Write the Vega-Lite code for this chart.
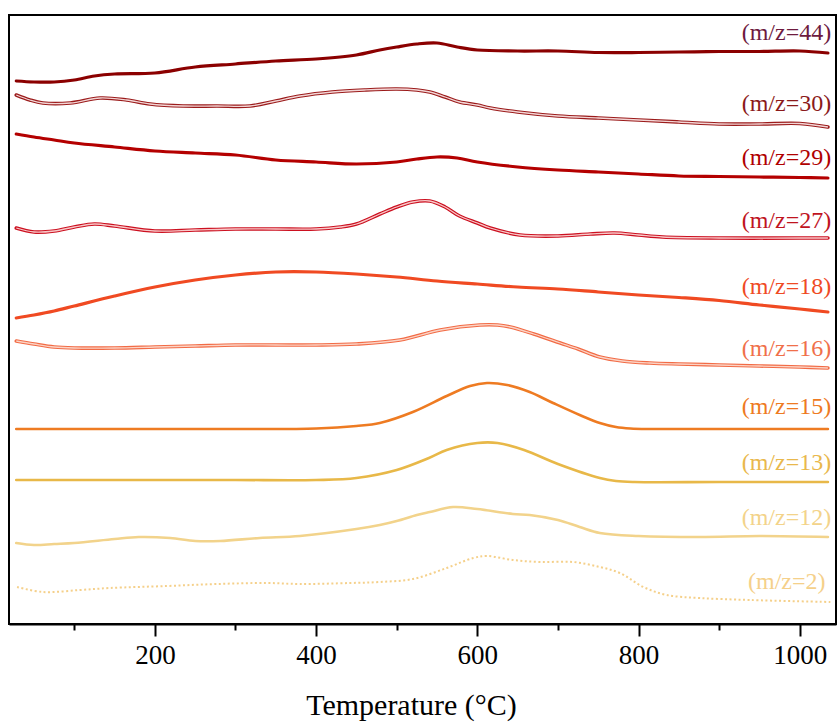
{
  "$schema": "https://vega.github.io/schema/vega-lite/v6.json",
  "width": 827,
  "height": 609,
  "autosize": {"type": "none"},
  "padding": {"left": 9, "top": 15, "right": 1, "bottom": 98},
  "background": "white",
  "config": {
    "view": {"stroke": "black", "strokeWidth": 2},
    "font": "Liberation Serif"
  },
  "datasets": {
    "curves": [
      {"s":"44","T":28,"v":543},{"s":"44","T":50,"v":542},{"s":"44","T":75,"v":542},{"s":"44","T":100,"v":544},{"s":"44","T":125,"v":548},{"s":"44","T":150,"v":550},{"s":"44","T":200,"v":551},{"s":"44","T":250,"v":557},{"s":"44","T":300,"v":560},{"s":"44","T":350,"v":563},{"s":"44","T":400,"v":565},{"s":"44","T":450,"v":569},{"s":"44","T":479,"v":574},{"s":"44","T":500,"v":577},{"s":"44","T":525,"v":580},{"s":"44","T":550,"v":581},{"s":"44","T":575,"v":577},{"s":"44","T":600,"v":574},{"s":"44","T":650,"v":573},{"s":"44","T":700,"v":573},{"s":"44","T":750,"v":571.5},{"s":"44","T":800,"v":571.5},{"s":"44","T":850,"v":572},{"s":"44","T":900,"v":572.5},{"s":"44","T":950,"v":572.5},{"s":"44","T":1000,"v":573},{"s":"44","T":1035,"v":571},
      {"s":"30","T":28,"v":529},{"s":"30","T":45,"v":524},{"s":"30","T":61,"v":521},{"s":"30","T":95,"v":521},{"s":"30","T":132,"v":526},{"s":"30","T":165,"v":524},{"s":"30","T":194,"v":520},{"s":"30","T":235,"v":518},{"s":"30","T":277,"v":518},{"s":"30","T":318,"v":518},{"s":"30","T":350,"v":523},{"s":"30","T":380,"v":528},{"s":"30","T":420,"v":532},{"s":"30","T":460,"v":534},{"s":"30","T":500,"v":535},{"s":"30","T":525,"v":534},{"s":"30","T":541,"v":532},{"s":"30","T":560,"v":527},{"s":"30","T":578,"v":522},{"s":"30","T":600,"v":519},{"s":"30","T":616,"v":516},{"s":"30","T":650,"v":512},{"s":"30","T":700,"v":508},{"s":"30","T":750,"v":506},{"s":"30","T":800,"v":504},{"s":"30","T":850,"v":502},{"s":"30","T":900,"v":500},{"s":"30","T":950,"v":500},{"s":"30","T":1000,"v":500.5},{"s":"30","T":1035,"v":497},
      {"s":"29","T":28,"v":490},{"s":"29","T":50,"v":487},{"s":"29","T":75,"v":484},{"s":"29","T":100,"v":481},{"s":"29","T":150,"v":477},{"s":"29","T":200,"v":473},{"s":"29","T":250,"v":471},{"s":"29","T":300,"v":469},{"s":"29","T":350,"v":464},{"s":"29","T":400,"v":462},{"s":"29","T":450,"v":460},{"s":"29","T":500,"v":462},{"s":"29","T":525,"v":465},{"s":"29","T":550,"v":467},{"s":"29","T":575,"v":466},{"s":"29","T":600,"v":462},{"s":"29","T":650,"v":457},{"s":"29","T":700,"v":454},{"s":"29","T":750,"v":452},{"s":"29","T":800,"v":450},{"s":"29","T":850,"v":448},{"s":"29","T":900,"v":447.5},{"s":"29","T":950,"v":447},{"s":"29","T":1000,"v":446.5},{"s":"29","T":1035,"v":446},
      {"s":"27","T":28,"v":396},{"s":"27","T":50,"v":392},{"s":"27","T":75,"v":393},{"s":"27","T":100,"v":397},{"s":"27","T":125,"v":400},{"s":"27","T":150,"v":398},{"s":"27","T":200,"v":393},{"s":"27","T":250,"v":394},{"s":"27","T":300,"v":395},{"s":"27","T":350,"v":395},{"s":"27","T":400,"v":395},{"s":"27","T":430,"v":397},{"s":"27","T":450,"v":400},{"s":"27","T":479,"v":410},{"s":"27","T":500,"v":417},{"s":"27","T":520,"v":422},{"s":"27","T":541,"v":423},{"s":"27","T":560,"v":417},{"s":"27","T":578,"v":408},{"s":"27","T":600,"v":401},{"s":"27","T":616,"v":396},{"s":"27","T":653,"v":389},{"s":"27","T":700,"v":388},{"s":"27","T":740,"v":390},{"s":"27","T":770,"v":391},{"s":"27","T":800,"v":389},{"s":"27","T":830,"v":387},{"s":"27","T":900,"v":386},{"s":"27","T":1000,"v":386},{"s":"27","T":1035,"v":386},
      {"s":"18","T":28,"v":306},{"s":"18","T":50,"v":309},{"s":"18","T":75,"v":313},{"s":"18","T":100,"v":318},{"s":"18","T":150,"v":328},{"s":"18","T":200,"v":337},{"s":"18","T":250,"v":344},{"s":"18","T":300,"v":349},{"s":"18","T":350,"v":352},{"s":"18","T":400,"v":352},{"s":"18","T":450,"v":350},{"s":"18","T":500,"v":347},{"s":"18","T":550,"v":343},{"s":"18","T":600,"v":340},{"s":"18","T":650,"v":337},{"s":"18","T":700,"v":335},{"s":"18","T":750,"v":332},{"s":"18","T":800,"v":329},{"s":"18","T":850,"v":326.5},{"s":"18","T":900,"v":323.5},{"s":"18","T":950,"v":319},{"s":"18","T":1000,"v":315},{"s":"18","T":1035,"v":312},
      {"s":"16","T":28,"v":283},{"s":"16","T":50,"v":280},{"s":"16","T":75,"v":277},{"s":"16","T":100,"v":276},{"s":"16","T":150,"v":276},{"s":"16","T":200,"v":277},{"s":"16","T":250,"v":278},{"s":"16","T":300,"v":279},{"s":"16","T":350,"v":279},{"s":"16","T":400,"v":279},{"s":"16","T":450,"v":280},{"s":"16","T":504,"v":284},{"s":"16","T":554,"v":294},{"s":"16","T":603,"v":299},{"s":"16","T":625,"v":299},{"s":"16","T":641,"v":297},{"s":"16","T":670,"v":290},{"s":"16","T":703,"v":281},{"s":"16","T":725,"v":275},{"s":"16","T":752,"v":267},{"s":"16","T":780,"v":263},{"s":"16","T":814,"v":261},{"s":"16","T":850,"v":260},{"s":"16","T":900,"v":259},{"s":"16","T":950,"v":258},{"s":"16","T":1000,"v":257},{"s":"16","T":1035,"v":256},
      {"s":"15","T":28,"v":195},{"s":"15","T":100,"v":195},{"s":"15","T":200,"v":195},{"s":"15","T":300,"v":195},{"s":"15","T":400,"v":195.5},{"s":"15","T":450,"v":198},{"s":"15","T":479,"v":201},{"s":"15","T":520,"v":212},{"s":"15","T":562,"v":228},{"s":"15","T":591,"v":238},{"s":"15","T":612,"v":241},{"s":"15","T":637,"v":239},{"s":"15","T":665,"v":232},{"s":"15","T":694,"v":221},{"s":"15","T":727,"v":209},{"s":"15","T":752,"v":201},{"s":"15","T":772,"v":197},{"s":"15","T":790,"v":195.5},{"s":"15","T":815,"v":195},{"s":"15","T":900,"v":195},{"s":"15","T":1000,"v":195},{"s":"15","T":1035,"v":195},
      {"s":"13","T":28,"v":144},{"s":"13","T":100,"v":144},{"s":"13","T":200,"v":144},{"s":"13","T":300,"v":144},{"s":"13","T":400,"v":144},{"s":"13","T":450,"v":146},{"s":"13","T":500,"v":154},{"s":"13","T":540,"v":166},{"s":"13","T":562,"v":174},{"s":"13","T":600,"v":181},{"s":"13","T":625,"v":181},{"s":"13","T":658,"v":174},{"s":"13","T":700,"v":160},{"s":"13","T":752,"v":146},{"s":"13","T":772,"v":143},{"s":"13","T":795,"v":142},{"s":"13","T":900,"v":142},{"s":"13","T":1035,"v":142},
      {"s":"12","T":28,"v":81},{"s":"12","T":50,"v":79},{"s":"12","T":75,"v":80},{"s":"12","T":100,"v":81},{"s":"12","T":150,"v":85},{"s":"12","T":180,"v":87},{"s":"12","T":219,"v":86},{"s":"12","T":250,"v":83},{"s":"12","T":281,"v":83},{"s":"12","T":330,"v":86},{"s":"12","T":380,"v":88},{"s":"12","T":450,"v":95},{"s":"12","T":479,"v":99},{"s":"12","T":500,"v":103},{"s":"12","T":525,"v":109},{"s":"12","T":541,"v":112},{"s":"12","T":570,"v":117},{"s":"12","T":600,"v":115},{"s":"12","T":644,"v":110},{"s":"12","T":665,"v":109},{"s":"12","T":700,"v":104},{"s":"12","T":727,"v":97},{"s":"12","T":752,"v":91},{"s":"12","T":800,"v":88},{"s":"12","T":876,"v":87},{"s":"12","T":950,"v":88},{"s":"12","T":1035,"v":87},
      {"s":"2","T":29,"v":37},{"s":"2","T":61,"v":32},{"s":"2","T":107,"v":34},{"s":"2","T":144,"v":36},{"s":"2","T":215,"v":38},{"s":"2","T":277,"v":40},{"s":"2","T":339,"v":41},{"s":"2","T":380,"v":40},{"s":"2","T":442,"v":41},{"s":"2","T":479,"v":42},{"s":"2","T":520,"v":45},{"s":"2","T":562,"v":56},{"s":"2","T":595,"v":66},{"s":"2","T":612,"v":68},{"s":"2","T":644,"v":64},{"s":"2","T":678,"v":62},{"s":"2","T":719,"v":62},{"s":"2","T":752,"v":57},{"s":"2","T":777,"v":51},{"s":"2","T":806,"v":37},{"s":"2","T":835,"v":29},{"s":"2","T":876,"v":26},{"s":"2","T":938,"v":24},{"s":"2","T":1038,"v":22}
    ],
    "labels": [
      {"label":"(m/z=44)","T":1039,"v":591},
      {"label":"(m/z=30)","T":1039,"v":520},
      {"label":"(m/z=29)","T":1039,"v":466},
      {"label":"(m/z=27)","T":1039,"v":403},
      {"label":"(m/z=18)","T":1039,"v":337},
      {"label":"(m/z=16)","T":1039,"v":275},
      {"label":"(m/z=15)","T":1039,"v":217},
      {"label":"(m/z=13)","T":1039,"v":161},
      {"label":"(m/z=12)","T":1039,"v":106},
      {"label":"(m/z=2)","T":1032,"v":42}
    ]
  },
  "encoding": {
    "x": {
      "field": "T", "type": "quantitative",
      "scale": {"domain": [19, 1045], "nice": false, "zero": false},
      "axis": {
        "title": "Temperature (°C)",
        "titleX": 402,
        "values": [100, 200, 300, 400, 500, 600, 700, 800, 900, 1000],
        "format": "d",
        "labelExpr": "datum.value % 200 === 0 ? datum.label : ''",
        "labelOverlap": false,
        "grid": false,
        "domainColor": "black", "domainWidth": 2,
        "tickColor": "black", "tickWidth": 2,
        "tickSize": {"condition": {"test": "datum.value % 200 === 0", "value": 12}, "value": 6},
        "labelFont": "Liberation Serif", "labelFontSize": 27, "labelColor": "black", "labelPadding": 6,
        "titleFont": "Liberation Serif", "titleFontSize": 30, "titleFontWeight": "normal", "titleColor": "black", "titlePadding": 22
      }
    },
    "y": {
      "field": "v", "type": "quantitative",
      "scale": {"domain": [0, 609], "nice": false, "zero": false},
      "axis": null
    }
  },
  "layer": [
    {
      "data": {"name": "curves"},
      "transform": [{"filter": "indexof(['44','29','18'], datum.s) >= 0"}],
      "mark": {"type": "line", "strokeWidth": 3.2, "interpolate": "catmull-rom", "strokeCap": "round"},
      "encoding": {
        "detail": {"field": "s"},
        "color": {"field": "s", "type": "nominal", "legend": null,
          "scale": {"domain": ["44", "29", "18"], "range": ["#8B0000", "#B40000", "#F04A22"]}}
      }
    },
    {
      "data": {"name": "curves"},
      "transform": [{"filter": "indexof(['15','13','12'], datum.s) >= 0"}],
      "mark": {"type": "line", "strokeWidth": 2.6, "interpolate": "catmull-rom", "strokeCap": "round"},
      "encoding": {
        "detail": {"field": "s"},
        "color": {"field": "s", "type": "nominal", "legend": null,
          "scale": {"domain": ["15", "13", "12"], "range": ["#EE7B22", "#E8B848", "#F2D38B"]}}
      }
    },
    {
      "data": {"name": "curves"},
      "transform": [{"filter": "indexof(['30','27','16'], datum.s) >= 0"}],
      "mark": {"type": "line", "strokeWidth": 3.6, "interpolate": "catmull-rom", "strokeCap": "round"},
      "encoding": {
        "detail": {"field": "s"},
        "color": {"field": "s", "type": "nominal", "legend": null,
          "scale": {"domain": ["30", "27", "16"], "range": ["#9B1B1B", "#CC1020", "#F26B45"]}}
      }
    },
    {
      "data": {"name": "curves"},
      "transform": [{"filter": "indexof(['30','27','16'], datum.s) >= 0"}],
      "mark": {"type": "line", "strokeWidth": 1.3, "interpolate": "catmull-rom"},
      "encoding": {
        "detail": {"field": "s"},
        "color": {"field": "s", "type": "nominal", "legend": null,
          "scale": {"domain": ["30", "27", "16"], "range": ["#F3D6D6", "#F8C8C8", "#FBD3C5"]}}
      }
    },
    {
      "data": {"name": "curves"},
      "transform": [{"filter": "datum.s === '2'"}],
      "mark": {"type": "line", "strokeWidth": 2, "interpolate": "catmull-rom", "strokeDash": [2, 2.5], "color": "#F5D08A"},
      "encoding": {}
    },
    {
      "data": {"name": "labels"},
      "mark": {"type": "text", "align": "right", "baseline": "middle", "font": "Liberation Serif", "fontSize": 24},
      "encoding": {
        "text": {"field": "label"},
        "color": {"field": "label", "type": "nominal", "legend": null,
          "scale": {
            "domain": ["(m/z=44)", "(m/z=30)", "(m/z=29)", "(m/z=27)", "(m/z=18)", "(m/z=16)", "(m/z=15)", "(m/z=13)", "(m/z=12)", "(m/z=2)"],
            "range": ["#6E1A3E", "#8B1A1A", "#B00000", "#C0141E", "#EF4A24", "#F0704A", "#EE7A22", "#E9B84C", "#F3D38A", "#F5D08A"]
          }}
      }
    }
  ],
  "resolve": {"scale": {"color": "independent"}}
}
